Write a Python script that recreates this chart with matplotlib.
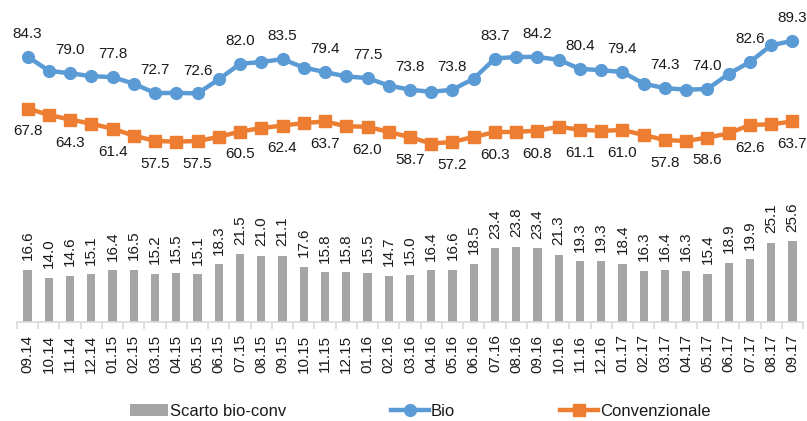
import matplotlib
matplotlib.use("Agg")
import matplotlib.pyplot as plt
import numpy as np

plt.rcParams['font.family'] = ['Liberation Sans', 'DejaVu Sans']

months = ["09.14","10.14","11.14","12.14","01.15","02.15","03.15","04.15","05.15","06.15",
          "07.15","08.15","09.15","10.15","11.15","12.15","01.16","02.16","03.16","04.16",
          "05.16","06.16","07.16","08.16","09.16","10.16","11.16","12.16","01.17","02.17",
          "03.17","04.17","05.17","06.17","07.17","08.17","09.17"]

scarto = [16.6, 14.0, 14.6, 15.1, 16.4, 16.5, 15.2, 15.5, 15.1, 18.3,
          21.5, 21.0, 21.1, 17.6, 15.8, 15.8, 15.5, 14.7, 15.0, 16.4,
          16.6, 18.5, 23.4, 23.8, 23.4, 21.3, 19.3, 19.3, 18.4, 16.3,
          16.4, 16.3, 15.4, 18.9, 19.9, 25.1, 25.6]

bio = [84.3, 79.8, 79.0, 78.1, 77.8, 75.7, 72.7, 72.8, 72.6, 77.1,
       82.0, 82.6, 83.5, 80.8, 79.4, 78.0, 77.5, 75.1, 73.8, 73.1,
       73.8, 77.3, 83.7, 84.2, 84.2, 83.3, 80.4, 80.0, 79.4, 75.7,
       74.3, 73.8, 74.0, 78.8, 82.6, 87.9, 89.3]

conv = [67.8, 65.8, 64.3, 63.0, 61.4, 59.2, 57.5, 57.3, 57.5, 58.8,
        60.5, 61.6, 62.4, 63.2, 63.7, 62.2, 62.0, 60.4, 58.7, 56.7,
        57.2, 58.8, 60.3, 60.4, 60.8, 62.0, 61.1, 60.7, 61.0, 59.4,
        57.8, 57.5, 58.6, 59.9, 62.6, 62.8, 63.7]

BLUE = '#5B9BD5'
ORANGE = '#ED7D31'
GRAY = '#A5A5A5'
TXT = '#1a1a1a'

fig = plt.figure(figsize=(8.07, 4.21), dpi=100)
ax = fig.add_axes([17/807, 1 - 322/421, (803 - 17)/807, (322 - 5)/421])

x = np.arange(len(months))
hb = ax.bar(x, scarto, width=0.39, color=GRAY, label='Scarto bio-conv', zorder=2)
hbio, = ax.plot(x, bio, color=BLUE, lw=3.2, marker='o', ms=8.5, label='Bio', zorder=3)
hconv, = ax.plot(x, conv, color=ORANGE, lw=3.2, marker='s', ms=8, label='Convenzionale', zorder=3)

fs = 11
for i, v in enumerate(scarto):
    ax.annotate(f"{v:.1f}", (i, v), xytext=(0, 7), textcoords='offset points',
                rotation=90, ha='center', va='bottom', fontsize=fs, color=TXT)
for i in range(0, len(months), 2):
    ax.annotate(f"{bio[i]:.1f}", (i, bio[i]), xytext=(0, 16.5), textcoords='offset points',
                ha='center', va='center', fontsize=fs, color=TXT)
    ax.annotate(f"{conv[i]:.1f}", (i, conv[i]), xytext=(0, -16.5), textcoords='offset points',
                ha='center', va='center', fontsize=fs, color=TXT)

ax.set_xlim(-0.5, len(months) - 0.5)
ax.set_ylim(0, 100.7)
for s in ['top', 'right', 'left']:
    ax.spines[s].set_visible(False)
ax.spines['bottom'].set_color('#D9D9D9')
ax.spines['bottom'].set_linewidth(1.2)
ax.set_yticks([])
ax.set_xticks(x)
ax.set_xticklabels(months, rotation=90, fontsize=fs, color=TXT)
ax.tick_params(axis='x', which='major', length=0, pad=9)
ax.set_xticks(np.arange(-0.5, len(months), 1), minor=True)
ax.tick_params(axis='x', which='minor', length=5, color='#D9D9D9', width=1.2)

leg = fig.legend(handles=[hb, hbio, hconv], loc='center',
                 bbox_to_anchor=(420/807, 1 - 411/421), ncol=3, frameon=False,
                 fontsize=12, handlelength=2.3, handletextpad=0.1, columnspacing=6.3)
for t in leg.get_texts():
    t.set_color(TXT)

fig.savefig('out.png', dpi=100)
